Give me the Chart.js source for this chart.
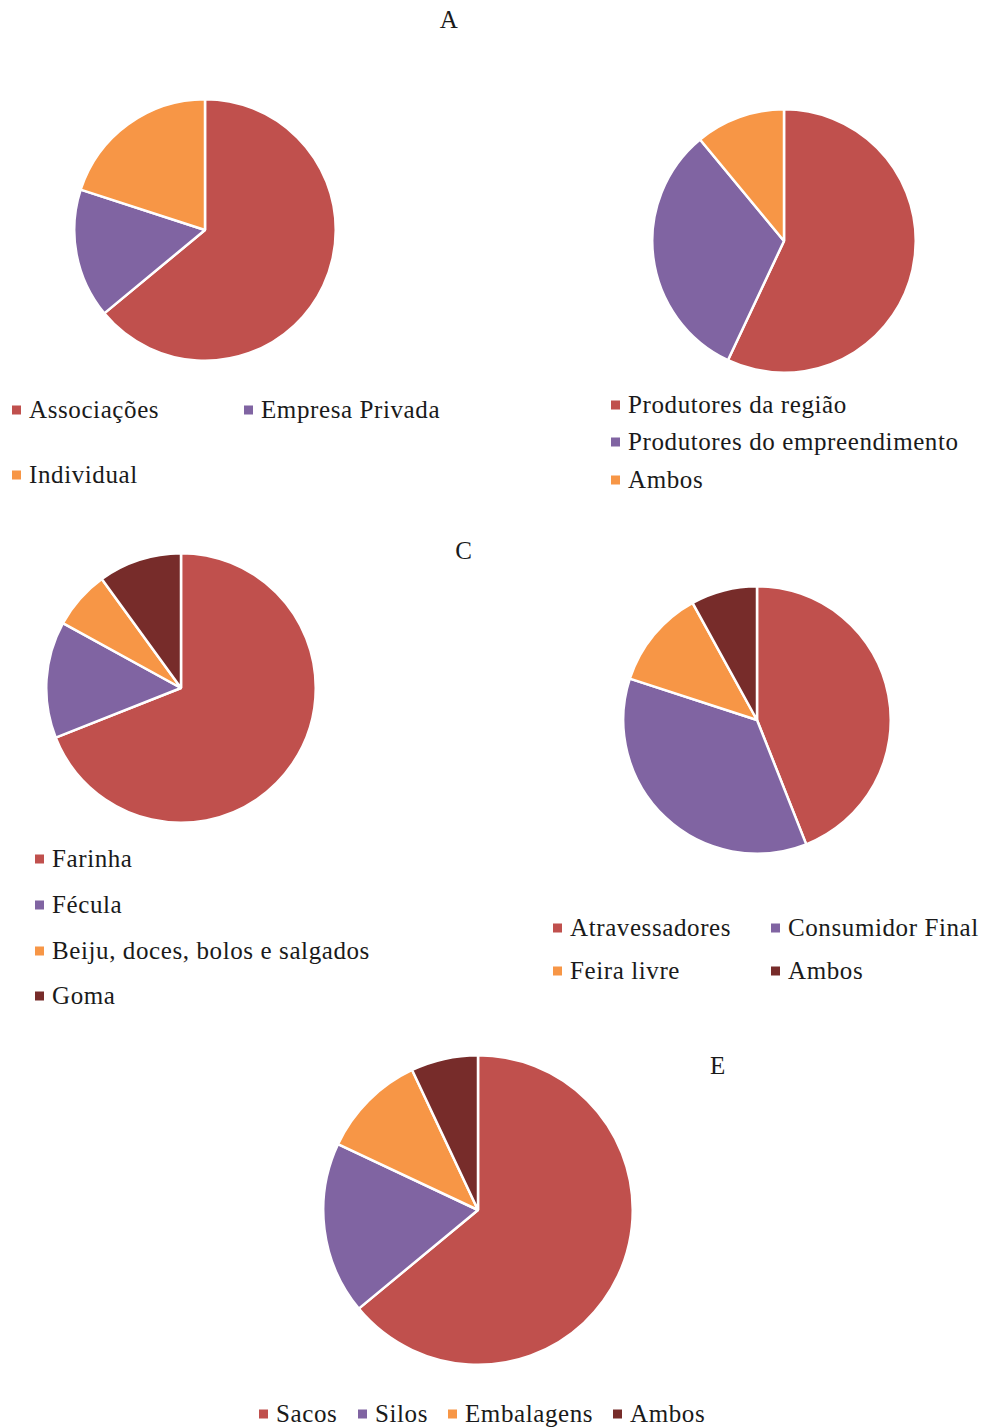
<!DOCTYPE html>
<html>
<head>
<meta charset="utf-8">
<script src="https://cdn.jsdelivr.net/npm/chart.js@4/dist/chart.umd.min.js"></script>
<style>
  body { margin: 0; background: #fff; }
  #page { position: relative; width: 986px; height: 1427px; color: #1a1a1a; }
  .title, .leg { font-family: "Liberation Serif", "Times New Roman", serif; font-size: 25px; letter-spacing: 0.6px; }
  .title { position: absolute; transform: translate(-50%, -50%); }
  .pie { position: absolute; }
  .leg { position: absolute; white-space: nowrap; line-height: 1; transform: translateY(-50%); }
  .leg i { display: inline-block; width: 9px; height: 9px; margin-right: 8px; vertical-align: middle; position: relative; top: -2px; }
</style>
</head>
<body>
<div id="page"></div>
<script>
// colours used by every pie
const colors = ["#C0504D", "#8064A2", "#F79646", "#772C2A"];

// A (left)
const labelsA1 = ["Associações", "Empresa Privada", "Individual"];
const valuesA1 = [64, 16, 20];
// A (right)
const labelsA2 = ["Produtores da região", "Produtores do empreendimento", "Ambos"];
const valuesA2 = [57, 32, 11];
// C (left)
const labelsC1 = ["Farinha", "Fécula", "Beiju, doces, bolos e salgados", "Goma"];
const valuesC1 = [69, 14, 7, 10];
// C (right)
const labelsC2 = ["Atravessadores", "Consumidor Final", "Feira livre", "Ambos"];
const valuesC2 = [44, 36, 12, 8];
// E
const labelsE = ["Sacos", "Silos", "Embalagens", "Ambos"];
const valuesE = [64, 18, 11, 7];

const page = document.getElementById("page");

function addTitle(text, x, y) {
  const d = document.createElement("div");
  d.className = "title";
  d.textContent = text;
  d.style.left = x + "px";
  d.style.top = y + "px";
  page.appendChild(d);
}

function addPie(labels, values, cx, cy, r) {
  const size = 2 * r + 4;
  const c = document.createElement("canvas");
  c.className = "pie";
  c.width = size;
  c.height = size;
  c.style.left = (cx - size / 2) + "px";
  c.style.top = (cy - size / 2) + "px";
  c.style.width = size + "px";
  c.style.height = size + "px";
  page.appendChild(c);
  new Chart(c, {
    type: "pie",
    data: {
      labels: labels,
      datasets: [{
        data: values,
        backgroundColor: colors.slice(0, values.length),
        borderColor: "#ffffff",
        borderWidth: 2.5,
      }],
    },
    options: {
      responsive: false,
      animation: false,
      layout: { padding: 0 },
      plugins: { legend: { display: false }, tooltip: { enabled: false } },
    },
  });
}

// positions: [x of marker, y of row centre] per label
function addLegend(labels, pos) {
  labels.forEach((l, i) => {
    const d = document.createElement("div");
    d.className = "leg";
    d.style.left = pos[i][0] + "px";
    d.style.top = pos[i][1] + "px";
    const m = document.createElement("i");
    m.style.background = colors[i];
    d.appendChild(m);
    d.appendChild(document.createTextNode(l));
    page.appendChild(d);
  });
}

addTitle("A", 449, 20);
addTitle("C", 464, 551);
addTitle("E", 718, 1066);

addPie(labelsA1, valuesA1, 205, 230, 130);
addPie(labelsA2, valuesA2, 784, 241, 131);
addPie(labelsC1, valuesC1, 181, 688, 134);
addPie(labelsC2, valuesC2, 757, 720, 133);
addPie(labelsE, valuesE, 478, 1210, 154);

addLegend(labelsA1, [[12, 409], [244, 409], [12, 474]]);
addLegend(labelsA2, [[611, 404], [611, 441], [611, 479]]);
addLegend(labelsC1, [[35, 858], [35, 904], [35, 950], [35, 995]]);
addLegend(labelsC2, [[553, 927], [771, 927], [553, 970], [771, 970]]);
addLegend(labelsE, [[259, 1413], [358, 1413], [448, 1413], [613, 1413]]);
</script>
</body>
</html>
